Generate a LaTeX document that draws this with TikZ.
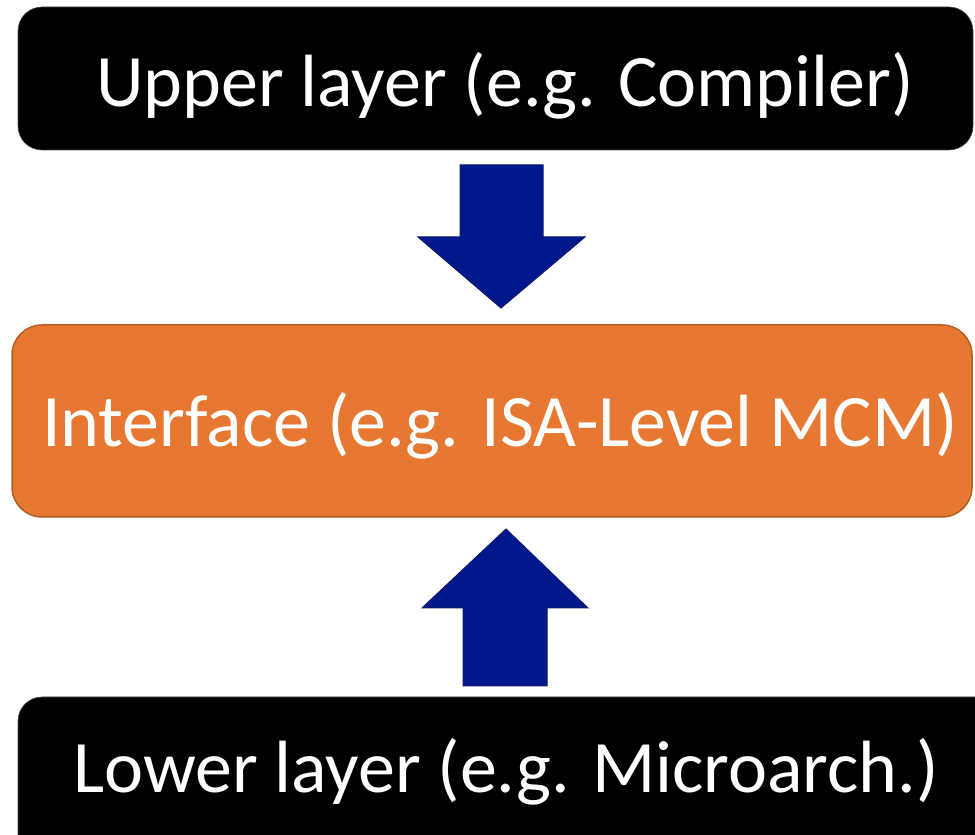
\documentclass[tikz,border=0pt]{standalone}
\usepackage{fontspec}
\setmainfont{Carlito}
\begin{document}
\begin{tikzpicture}[x=1pt,y=1pt,
  layerbox/.style={draw=black!70,line width=0.6pt,fill=black,rounded corners=24pt},
  ifacebox/.style={draw=orangeedge,line width=1.5pt,fill=ifaceorange,rounded corners=30pt},
  blockarrow/.style={draw=arrowedge,line width=1pt,fill=arrowblue,line join=miter},
  label/.style={text=white,font=\fontsize{74}{82}\selectfont,inner sep=0pt,anchor=base}]
\definecolor{ifaceorange}{HTML}{E77832}
\definecolor{orangeedge}{HTML}{B0601F}
\definecolor{arrowblue}{HTML}{00188C}
\definecolor{arrowedge}{HTML}{0A1A6A}
\useasboundingbox (0,0) rectangle (975,835);
\clip (0,0) rectangle (975,835);
% upper layer
\draw[layerbox] (18,828) rectangle (973,685);
\node[label] (upper) at (505,728) {Upper layer (e.g. Compiler)};
% interface
\draw[ifacebox] (12,510) rectangle (972,318);
\node[label] (iface) at (500,388) {Interface (e.g. ISA-Level MCM)};
% lower layer
\draw[layerbox] (18,138) rectangle (1000,-30);
\node[label] (lower) at (506,42) {Lower layer (e.g. Microarch.)};
% down arrow from upper layer to interface
\draw[blockarrow] (460,670) -- (543,670) -- (543,598) -- (585,598) -- (501,527)
  -- (418,598) -- (460,598) -- cycle;
% up arrow from lower layer to interface
\draw[blockarrow] (463,149) -- (547,149) -- (547,227) -- (588,227) -- (506,306)
  -- (422,227) -- (463,227) -- cycle;
\end{tikzpicture}
\end{document}
